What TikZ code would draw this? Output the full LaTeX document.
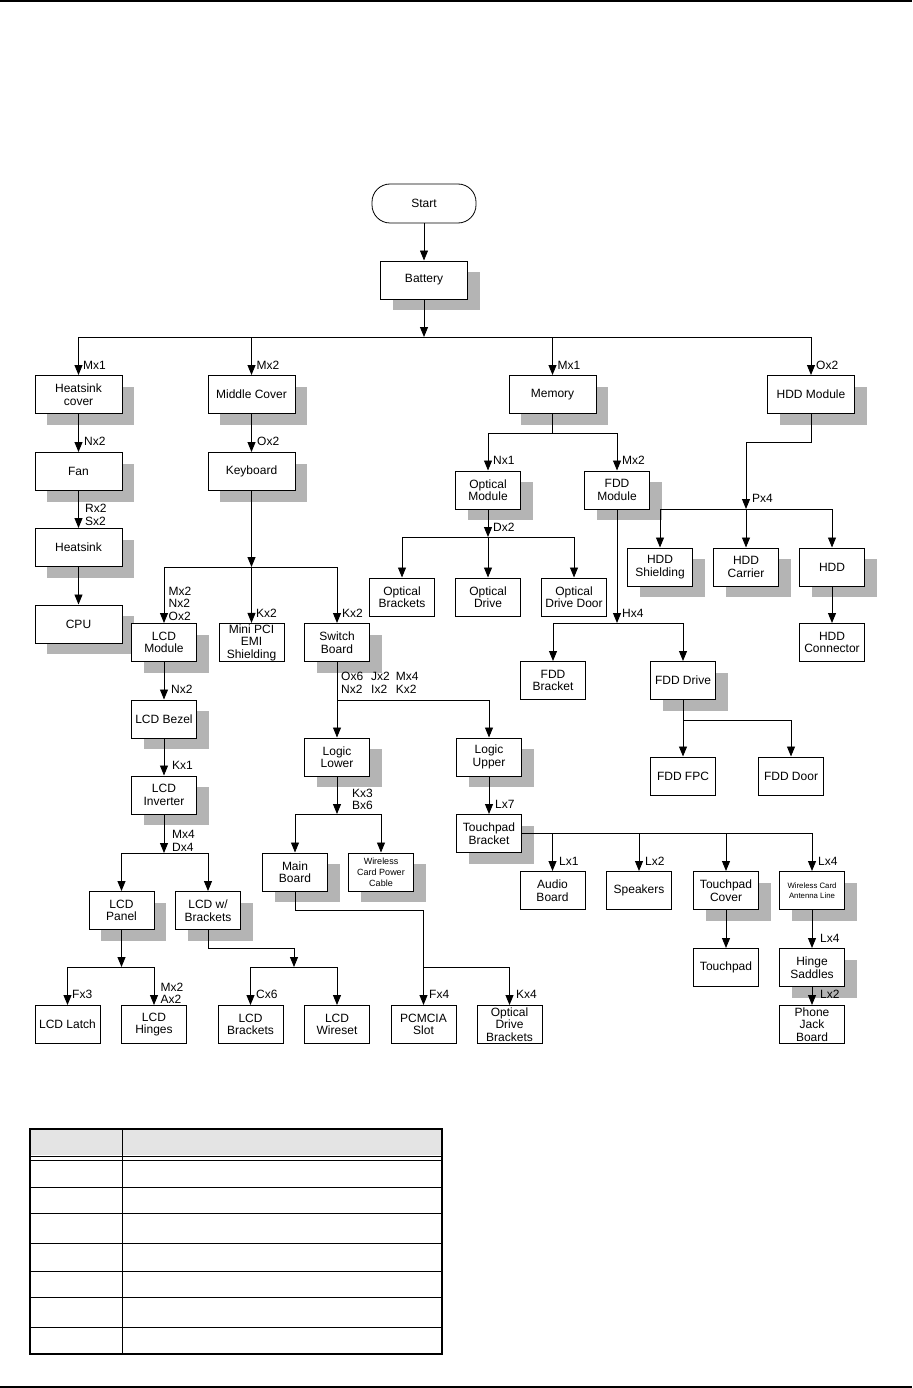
\documentclass[tikz,border=0pt]{standalone}
\usepackage{fontspec}
\setmainfont{Liberation Sans}
\usetikzlibrary{arrows.meta,shadows}
\definecolor{schatten}{HTML}{B4B4B4}
\definecolor{kopf}{HTML}{E4E4E4}
\newcommand{\kfont}{\fontsize{12}{12.5}\selectfont}
\newcommand{\kklein}{\fontsize{9}{11}\selectfont}
\newcommand{\kwinz}{\fontsize{7.8}{10}\selectfont}
\tikzset{
  kasten/.style={draw,fill=white,line width=1pt,align=center,inner sep=1pt,minimum height=38pt,minimum width=65pt,font=\kfont},
  breit/.style={kasten,minimum width=87pt},
  schat/.style={drop shadow={fill=schatten,opacity=1,shadow xshift=12pt,shadow yshift=-11pt}},
  pfeil/.style={-{Triangle[length=10pt,width=8pt]},line width=0.9pt},
  linie/.style={line width=0.9pt},
  anz/.style={anchor=west,inner sep=0pt,align=left,font=\kfont},
}

\begin{document}
\begin{tikzpicture}[x=1pt,y=-1pt]
  \useasboundingbox (0,0) rectangle (912,1388);
  \draw[line width=1.4pt] (0,1) -- (912,1);
  \draw[line width=1.4pt] (0,1387) -- (912,1387);

  \node[draw,line width=0.8pt,rounded corners=18pt,minimum width=104pt,minimum height=39pt,font=\kfont] (start) at (424,203.5) {Start};
  \node[breit,schat] (batt) at (424,280) {Battery};

  \node[breit,schat] (hscov) at (78.5,394.5) {Heatsink\\cover};
  \node[breit,schat] (fan) at (78.5,471.5) {Fan};
  \node[breit,schat] (hsink) at (78.5,547.5) {Heatsink};
  \node[breit,schat] (cpu) at (78.5,624) {CPU};

  \node[breit,schat] (midcov) at (251.5,394.5) {Middle Cover};
  \node[breit,schat] (kbd) at (251.5,471.5) {Keyboard};
  \node[kasten,schat] (lcdmod) at (164,642.5) {LCD\\Module};
  \node[kasten] (minipci) at (251.5,642.5) {Mini PCI\\EMI\\Shielding};
  \node[kasten,schat] (swb) at (337,642.5) {Switch\\Board};

  \node[breit,schat] (mem) at (552.5,394.5) {Memory};
  \node[kasten,schat] (optmod) at (488,490) {Optical\\Module};
  \node[kasten,schat] (fddmod) at (617,490) {FDD\\Module};
  \node[kasten] (optbr) at (402,597) {Optical\\Brackets};
  \node[kasten] (optdr) at (488,597) {Optical\\Drive};
  \node[kasten] (optdd) at (574,597) {Optical\\Drive Door};
  \node[kasten] (fddbr) at (553,680.5) {FDD\\Bracket};
  \node[kasten,schat] (fdddr) at (683,680.5) {FDD Drive};
  \node[kasten] (fddfpc) at (683,776) {FDD FPC};
  \node[kasten] (fdddoor) at (791,776) {FDD Door};

  \node[breit,schat] (hddmod) at (811,394.5) {HDD Module};
  \node[kasten,schat] (hddsh) at (660,567) {HDD\\Shielding};
  \node[kasten,schat] (hddca) at (746,567) {HDD\\Carrier};
  \node[kasten,schat] (hdd) at (832,567) {HDD};
  \node[kasten] (hddcon) at (832,642.5) {HDD\\Connector};

  \node[kasten,schat] (bezel) at (164,719) {LCD Bezel};
  \node[kasten,schat] (inv) at (164,795) {LCD\\Inverter};
  \node[kasten,schat] (panel) at (121.5,910.5) {LCD\\Panel};
  \node[kasten,schat] (lcdwb) at (208,910.5) {LCD w/\\Brackets};
  \node[kasten] (latch) at (67.5,1024.5) {LCD Latch};
  \node[kasten] (hinges) at (154,1024.5) {LCD\\Hinges};
  \node[kasten] (lcdbr) at (250.5,1024.5) {LCD\\Brackets};
  \node[kasten] (wires) at (337,1024.5) {LCD\\Wireset};

  \node[kasten,schat] (loglo) at (337,757) {Logic\\Lower};
  \node[kasten,schat] (logup) at (489,757) {Logic\\Upper};
  \node[kasten,schat] (mainb) at (295,872) {Main\\Board};
  \node[kasten,schat,font=\kklein] (wlpow) at (381,872) {Wireless\\Card Power\\Cable};
  \node[kasten] (pcm) at (423.5,1024.5) {PCMCIA\\Slot};
  \node[kasten] (odbr) at (509.5,1024.5) {Optical\\Drive\\Brackets};

  \node[kasten,schat] (tpbr) at (489,833.5) {Touchpad\\Bracket};
  \node[kasten] (audio) at (552.5,890.5) {Audio\\Board};
  \node[kasten] (spk) at (639,890.5) {Speakers};
  \node[kasten,schat] (tpcov) at (726,890.5) {Touchpad\\Cover};
  \node[kasten,schat,font=\kwinz] (ant) at (812,890.5) {Wireless Card\\Antenna Line};
  \node[kasten] (tpad) at (726,967.5) {Touchpad};
  \node[kasten,schat] (hinge) at (812,967.5) {Hinge\\Saddles};
  \node[kasten] (phone) at (812,1024.5) {Phone\\Jack\\Board};

  \coordinate (j0) at (424,337);
  \coordinate (j1) at (251.5,567);
  \coordinate (j2) at (552.5,433);
  \coordinate (j3) at (488,537);
  \coordinate (j4) at (617,623);
  \coordinate (j5) at (683,720);
  \coordinate (b6) at (746,442);
  \coordinate (j6) at (746,509);
  \coordinate (j7) at (164,853);
  \coordinate (j8) at (121.5,967);
  \coordinate (b9) at (294,948);
  \coordinate (j9) at (294,967);
  \coordinate (j10) at (337,700);
  \coordinate (j11) at (337,814);
  \coordinate (b12) at (423.5,910);
  \coordinate (j12) at (423.5,967);

  \draw[pfeil,line width=0.7pt] (start) -- (batt);
  \draw[pfeil] (batt) -- (j0);
  \draw[pfeil] (j0) -| (hscov);
  \draw[pfeil] (j0) -| (midcov);
  \draw[pfeil] (j0) -| (mem);
  \draw[pfeil] (j0) -| (hddmod);

  \draw[pfeil] (hscov) -- (fan);
  \draw[pfeil] (fan) -- (hsink);
  \draw[pfeil] (hsink) -- (cpu);

  \draw[pfeil] (midcov) -- (kbd);
  \draw[pfeil] (kbd) -- (j1);
  \draw[pfeil] (j1) -| (lcdmod);
  \draw[pfeil] (j1) -- (minipci);
  \draw[pfeil] (j1) -| (swb);

  \draw[linie] (mem) -- (j2);
  \draw[pfeil] (j2) -| (optmod);
  \draw[pfeil] (j2) -| (fddmod);
  \draw[pfeil] (optmod) -- (j3);
  \draw[pfeil] (j3) -| (optbr);
  \draw[pfeil] (j3) -- (optdr);
  \draw[pfeil] (j3) -| (optdd);
  \draw[pfeil] (fddmod) -- (j4);
  \draw[pfeil] (j4) -| (fddbr);
  \draw[pfeil] (j4) -| (fdddr);
  \draw[pfeil] (fdddr) -- (fddfpc);
  \draw[pfeil] (j5) -| (fdddoor);

  \draw[pfeil] (hddmod) |- (b6) -- (j6);
  \draw[pfeil] (j6) -| (hddsh);
  \draw[pfeil] (j6) -- (hddca);
  \draw[pfeil] (j6) -| (hdd);
  \draw[pfeil] (hdd) -- (hddcon);

  \draw[pfeil] (lcdmod) -- (bezel);
  \draw[pfeil] (bezel) -- (inv);
  \draw[pfeil] (inv) -- (j7);
  \draw[pfeil] (j7) -| (panel);
  \draw[pfeil] (j7) -| (lcdwb);
  \draw[pfeil] (panel) -- (j8);
  \draw[pfeil] (j8) -| (latch);
  \draw[pfeil] (j8) -| (hinges);
  \draw[pfeil] (lcdwb) |- (b9) -- (j9);
  \draw[pfeil] (j9) -| (lcdbr);
  \draw[pfeil] (j9) -| (wires);

  \draw[pfeil] (swb) -- (loglo);
  \draw[pfeil] (j10) -| (logup);
  \draw[pfeil] (loglo) -- (j11);
  \draw[pfeil] (j11) -| (mainb);
  \draw[pfeil] (j11) -| (wlpow);
  \draw[pfeil] (mainb) |- (b12) -- (pcm);
  \draw[pfeil] (j12) -| (odbr);

  \draw[pfeil] (logup) -- (tpbr);
  \draw[pfeil] (tpbr.east) -| (ant);
  \draw[pfeil] (tpbr.east -| audio) -- (audio);
  \draw[pfeil] (tpbr.east -| spk) -- (spk);
  \draw[pfeil] (tpbr.east -| tpcov) -- (tpcov);
  \draw[pfeil] (tpcov) -- (tpad);
  \draw[pfeil] (ant) -- (hinge);
  \draw[pfeil] (hinge) -- (phone);

  \node[anz] at (83,365) {Mx1};
  \node[anz] at (256.5,365) {Mx2};
  \node[anz] at (557.5,365) {Mx1};
  \node[anz] at (816,365) {Ox2};
  \node[anz] at (84,441) {Nx2};
  \node[anz] at (257,441) {Ox2};
  \node[anz] at (85,515) {Rx2\\Sx2};
  \node[anz] at (168.5,603.5) {Mx2\\Nx2\\Ox2};
  \node[anz] at (256,613) {Kx2};
  \node[anz] at (342,613) {Kx2};
  \node[anz] at (493,460) {Nx1};
  \node[anz] at (622,460) {Mx2};
  \node[anz] at (493,527) {Dx2};
  \node[anz] at (752,498) {Px4};
  \node[anz] at (622,613) {Hx4};
  \node[anz] at (171,689) {Nx2};
  \node[anz] at (341,684.5) {\begin{tabular}{@{}l@{\hspace{8pt}}l@{\hspace{6pt}}l@{}}Ox6&Jx2&Mx4\\Nx2&Ix2&Kx2\end{tabular}};
  \node[anz] at (172,765) {Kx1};
  \node[anz] at (172,841) {Mx4\\Dx4};
  \node[anz] at (352,799.5) {Kx3\\Bx6};
  \node[anz] at (495,804) {Lx7};
  \node[anz] at (72,994) {Fx3};
  \node[anz] at (160.5,993.5) {Mx2\\Ax2};
  \node[anz] at (256,994) {Cx6};
  \node[anz] at (429,994) {Fx4};
  \node[anz] at (516,994) {Kx4};
  \node[anz] at (559,861) {Lx1};
  \node[anz] at (645,861) {Lx2};
  \node[anz] at (818,861) {Lx4};
  \node[anz] at (820,938) {Lx4};
  \node[anz] at (820,994) {Lx2};

  \fill[kopf] (30,1129) rectangle (442,1155);
  \foreach \y in {1156,1160,1187,1213,1243,1271,1297,1327}
    \draw[line width=0.9pt] (30,\y) -- (442,\y);
  \draw[line width=1.1pt] (30,1129) rectangle (442,1354);
  \draw[line width=0.9pt] (122,1129) -- (122,1354);
\end{tikzpicture}
\end{document}
